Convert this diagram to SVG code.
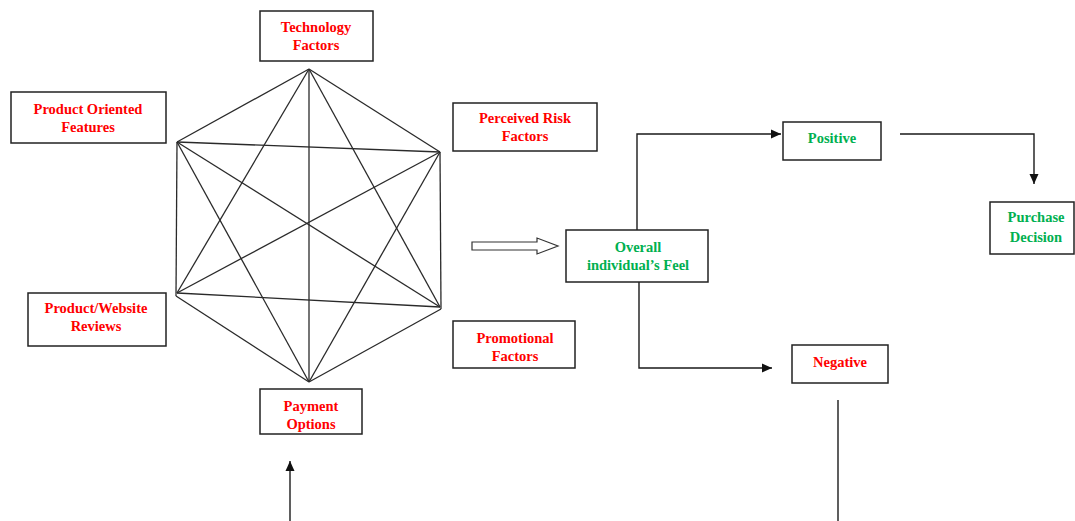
<svg xmlns="http://www.w3.org/2000/svg" width="1075" height="521" viewBox="0 0 1075 521">
<style>
.box{fill:#fff;stroke:#222;stroke-width:1.5}
.t{font-family:"Liberation Serif","Times New Roman",serif;font-weight:bold;font-size:14.5px;text-anchor:middle}
.r{fill:#ff0000}
.g{fill:#00b050}
.ln{stroke:#2a2a2a;stroke-width:1.3;fill:none}
.cn{stroke:#1a1a1a;stroke-width:1.4;fill:none}
</style>
<defs>
<marker id="ah" markerWidth="12" markerHeight="12" refX="10" refY="5.5" orient="auto" markerUnits="userSpaceOnUse">
<path d="M0,1 L10,5.5 L0,10 Z" fill="#111"/>
</marker>
</defs>
<rect width="1075" height="521" fill="#fff"/>
<g id="hexagon" class="ln">
<line x1="309" y1="69" x2="177" y2="142"/>
<line x1="309" y1="69" x2="440" y2="152"/>
<line x1="309" y1="69" x2="309" y2="382"/>
<line x1="309" y1="69" x2="177" y2="293"/>
<line x1="309" y1="69" x2="440" y2="307"/>
<line x1="177" y1="142" x2="440" y2="152"/>
<line x1="177" y1="142" x2="176" y2="296"/>
<line x1="177" y1="142" x2="440" y2="307"/>
<line x1="177" y1="142" x2="309" y2="382"/>
<line x1="440" y1="152" x2="441" y2="309"/>
<line x1="440" y1="152" x2="177" y2="293"/>
<line x1="440" y1="152" x2="309" y2="382"/>
<line x1="177" y1="293" x2="440" y2="307"/>
<line x1="176" y1="296" x2="309" y2="382"/>
<line x1="441" y1="309" x2="309" y2="382"/>
</g>
<g id="connectors">
<path d="M472,242 H537 V238 L558,246 L537,254 V250 H472 Z" fill="#fff" stroke="#333" stroke-width="1.2"/>
<path class="cn" d="M637,230 V134 H781" marker-end="url(#ah)"/>
<path class="cn" d="M639,282 V368 H772" marker-end="url(#ah)"/>
<path class="cn" d="M900,134 H1034 V184" marker-end="url(#ah)"/>
<path class="cn" d="M838,400 V521"/>
<path class="cn" d="M290,521 V461" marker-end="url(#ah)"/>
</g>
<g id="technology">
<rect class="box" x="260" y="11" width="113" height="50"/>
<text class="t r" x="316" y="32">Technology</text>
<text class="t r" x="316" y="50">Factors</text>
</g>
<g id="product-oriented">
<rect class="box" x="11" y="92" width="155" height="51"/>
<text class="t r" x="88" y="114">Product Oriented</text>
<text class="t r" x="88" y="132">Features</text>
</g>
<g id="perceived-risk">
<rect class="box" x="453" y="103" width="144" height="48"/>
<text class="t r" x="525" y="123">Perceived Risk</text>
<text class="t r" x="525" y="141">Factors</text>
</g>
<g id="product-website">
<rect class="box" x="28" y="293" width="138" height="53"/>
<text class="t r" x="96" y="313">Product/Website</text>
<text class="t r" x="96" y="331">Reviews</text>
</g>
<g id="promotional">
<rect class="box" x="453" y="321" width="122" height="47"/>
<text class="t r" x="515" y="343">Promotional</text>
<text class="t r" x="515" y="361">Factors</text>
</g>
<g id="payment">
<rect class="box" x="260" y="389" width="102" height="45"/>
<text class="t r" x="311" y="411">Payment</text>
<text class="t r" x="311" y="429">Options</text>
</g>
<g id="overall">
<rect class="box" x="566" y="230" width="142" height="52"/>
<text class="t g" x="638" y="252">Overall</text>
<text class="t g" x="638" y="270">individual’s Feel</text>
</g>
<g id="positive">
<rect class="box" x="783" y="122" width="98" height="38"/>
<text class="t g" x="832" y="143">Positive</text>
</g>
<g id="negative">
<rect class="box" x="792" y="345" width="96" height="38"/>
<text class="t r" x="840" y="367">Negative</text>
</g>
<g id="purchase">
<rect class="box" x="990" y="202" width="84" height="52"/>
<text class="t g" x="1036" y="222">Purchase</text>
<text class="t g" x="1036" y="242">Decision</text>
</g>
</svg>
